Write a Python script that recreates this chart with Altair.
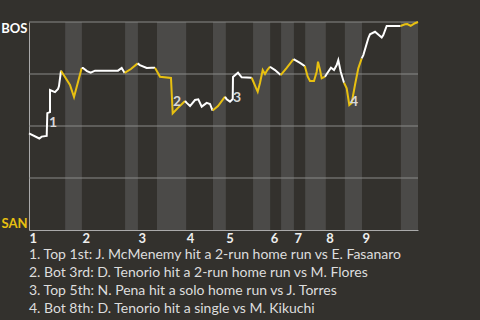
import altair as alt
import pandas as pd

# Game progress runs 0..100 across the nine innings
inning_start = [0, 13.6, 28.0, 40.4, 50.6, 62.0, 68.1, 76.3, 85.6]
bottom_start = [9.3, 24.7, 32.9, 47.3, 57.6, 64.8, 71.0, 81.2, 95.6]
bottom_end = inning_start[1:] + [100]

# BOS win probability after each play
wp_x = [0, 2.65, 3.26, 4.55, 4.71, 5.40, 5.40, 6.68, 7.46, 7.71, 8.23,
        10.54, 11.57, 13.55,
        13.88, 14.91, 15.86, 16.97, 22.88, 23.83, 24.6,
        26.2, 27.94,
        28.5, 30.26, 31.54, 32.39,
        33.68, 36.5, 36.94, 38.3, 40.1,
        40.54, 41.39, 42.67, 43.52, 44.40, 45.68, 46.53, 47.2,
        48.59, 50.39,
        50.82, 51.67, 52.37, 52.44, 53.73, 54.68, 57.25,
        58.35, 58.79, 59.38, 60.08, 60.67, 61.26, 61.95,
        63.24, 64.7,
        66.25, 68.0,
        69.67, 70.9,
        71.65, 72.24, 73.26, 73.96, 74.29, 74.81, 75.24, 76.09,
        76.53, 77.63, 78.41, 79.10, 79.51, 80.13, 80.98,
        81.67, 82.34, 82.96, 83.80, 84.65, 85.53,
        85.94, 87.22, 87.66, 88.95, 90.67, 91.08, 91.95, 95.5,
        96.66, 97.25, 98.12, 99.23, 100]
wp_p = [0.465, 0.44, 0.449, 0.452, 0.562, 0.567, 0.673, 0.663, 0.678, 0.692, 0.766,
        0.697, 0.639, 0.779,
        0.779, 0.764, 0.756, 0.766, 0.766, 0.779, 0.755,
        0.774, 0.801,
        0.793, 0.779, 0.780, 0.780,
        0.737, 0.731, 0.561, 0.587, 0.620,
        0.611, 0.596, 0.625, 0.628, 0.593, 0.611, 0.606, 0.574,
        0.596, 0.641,
        0.628, 0.617, 0.630, 0.736, 0.756, 0.734, 0.732,
        0.683, 0.665, 0.707, 0.769, 0.75, 0.769, 0.785,
        0.769, 0.745,
        0.779, 0.821,
        0.803, 0.788,
        0.737, 0.716, 0.716, 0.761, 0.809, 0.769, 0.729, 0.737,
        0.75, 0.780, 0.769, 0.793, 0.817, 0.761, 0.708,
        0.681, 0.601, 0.611, 0.697, 0.777, 0.825,
        0.841, 0.922, 0.941, 0.953, 0.926, 0.9375, 0.981, 0.981,
        0.989, 0.990, 0.981, 0.994, 1.0]

# Key plays
ann_num = ["1", "2", "3", "4"]
ann_x = [6.17, 38.05, 53.47, 83.55]
ann_p = [0.514, 0.615, 0.635, 0.615]
ann_text = [
    "1. Top 1st: J. McMenemy hit a 2-run home run vs E. Fasanaro",
    "2. Bot 3rd: D. Tenorio hit a 2-run home run vs M. Flores",
    "3. Top 5th: N. Pena hit a solo home run vs J. Torres",
    "4. Bot 8th: D. Tenorio hit a single vs M. Kikuchi",
]

grid_vals = [0.25, 0.5, 0.75, 1.0]

BG = "#33312d"
BAND = "#4b4a48"
YELLOW = "#e8c010"
FONT = "Lato"


def half_of(x):
    # index of the half-inning containing x (even = top, odd = bottom)
    for i in range(9):
        if x < bottom_start[i]:
            return 2 * i
        if x <= bottom_end[i] and (i == 8 or x < inning_start[i + 1]):
            return 2 * i + 1
    return 17


halves = [half_of(x) for x in wp_x]
rows = []
for h in sorted(set(halves)):
    idx = [i for i, hh in enumerate(halves) if hh == h]
    if idx[0] > 0:
        idx = [idx[0] - 1] + idx
    team = "BOS" if h % 2 == 0 else "SAN"
    for k, i in enumerate(idx):
        rows.append({"x": wp_x[i], "p": wp_p[i], "seg": h, "team": team, "order": k})
line_df = pd.DataFrame(rows)

band_df = pd.DataFrame({"x": bottom_start, "x2": bottom_end})
grid_df = pd.DataFrame({"p": grid_vals})
ann_df = pd.DataFrame({"x": ann_x, "p": ann_p, "t": ann_num})

xscale = alt.Scale(domain=[0, 100], nice=False, zero=False)
yscale = alt.Scale(domain=[0, 1], nice=False)

label_expr = "indexof(" + str(inning_start) + ", datum.value) + 1"

bands = alt.Chart(band_df).mark_rect(color=BAND).encode(
    x=alt.X("x:Q", scale=xscale,
            axis=alt.Axis(values=inning_start, labelExpr=label_expr, title=None,
                          grid=False, ticks=False, labelAlign="left",
                          labelBaseline="top", labelPadding=2,
                          labelFont=FONT, labelFontSize=13, labelFontWeight="bold",
                          labelColor="#eeeeee", domainColor="#aaaaaa",
                          labelOverlap=False, labelFlush=False)),
    x2="x2:Q",
)

grid = alt.Chart(grid_df).mark_rule(color="#8a8a88", strokeWidth=1).encode(
    y=alt.Y("p:Q", scale=yscale,
            axis=alt.Axis(values=[0, 0.25, 0.5, 0.75, 1], grid=False, ticks=False,
                          title=None, domainColor="#aaaaaa",
                          labelExpr="datum.value == 1 ? 'BOS' : (datum.value == 0 ? 'SAN' : '')",
                          labelBaseline=alt.condition("datum.value == 1", alt.value("top"), alt.value("bottom")),
                          labelColor=alt.condition("datum.value == 1", alt.value("#ffffff"), alt.value(YELLOW)),
                          labelFont=FONT, labelFontSize=13, labelFontWeight="bold",
                          labelPadding=2, labelFlush=False)),
)

line = alt.Chart(line_df).mark_line(strokeWidth=2, strokeJoin="miter").encode(
    x=alt.X("x:Q", scale=xscale),
    y=alt.Y("p:Q", scale=yscale),
    detail="seg:N",
    order="order:Q",
    color=alt.Color("team:N", scale=alt.Scale(domain=["BOS", "SAN"], range=["#ffffff", YELLOW]),
                    legend=None),
)

labels = alt.Chart(ann_df).mark_text(font=FONT, fontSize=14, fontWeight="bold",
                                     color="#d8d8d8", align="center",
                                     baseline="middle").encode(
    x=alt.X("x:Q", scale=xscale),
    y=alt.Y("p:Q", scale=yscale),
    text="t:N",
)

chart = alt.layer(bands, grid, line, labels).properties(
    width=389,
    height=208,
    background=BG,
    autosize=alt.AutoSizeParams(type="none"),
    padding={"left": 29, "top": 22, "right": 62, "bottom": 90},
    title=alt.TitleParams(text=ann_text, orient="bottom", anchor="start",
                          frame="group",
                          font=FONT, fontSize=14, fontWeight="normal",
                          color="#dddddd", lineHeight=18, offset=3,
                          baseline="top"),
).configure_view(stroke=None)

chart.save("out.html", embed_options={"renderer": "svg", "actions": False})
